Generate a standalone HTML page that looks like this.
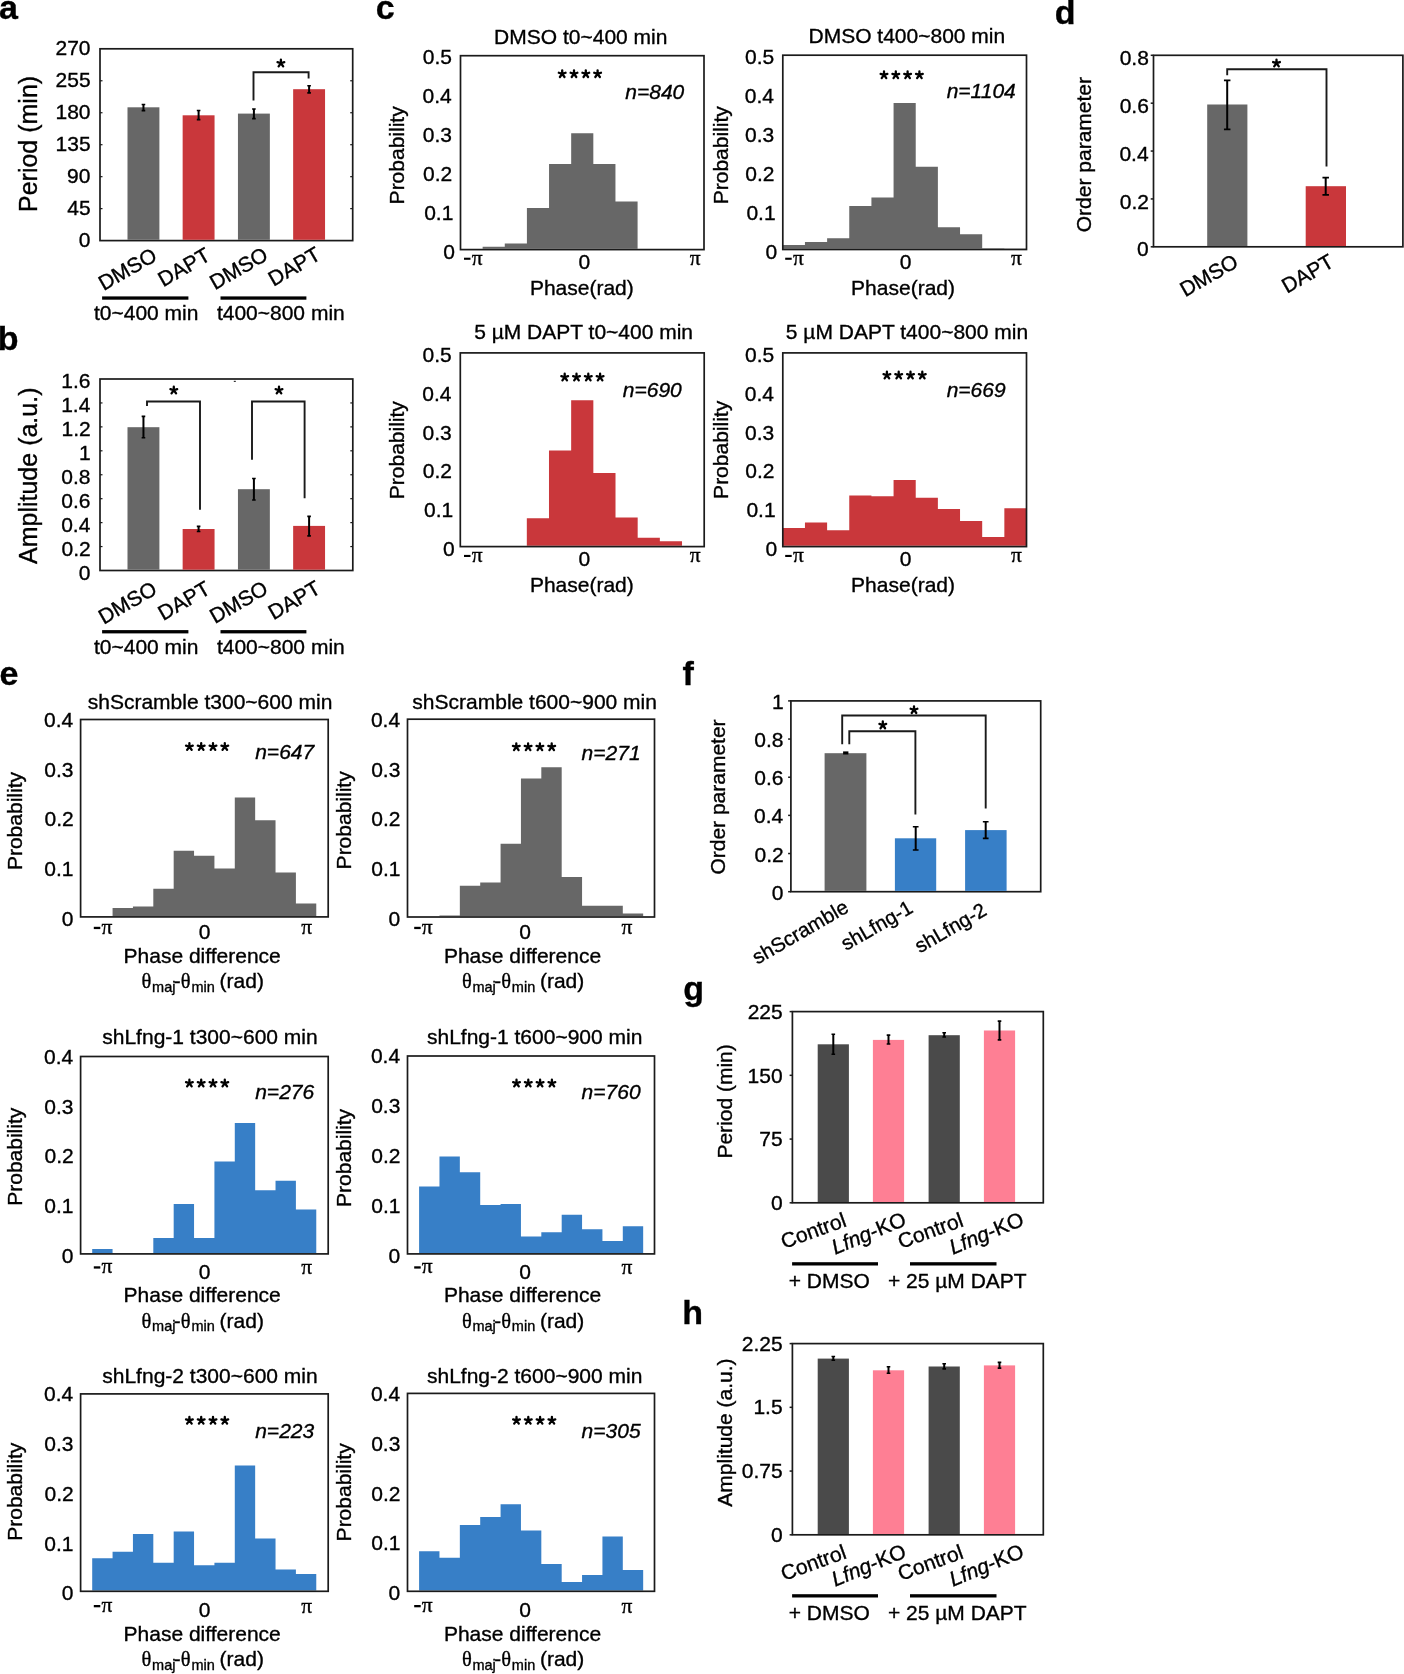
<!DOCTYPE html>
<html><head><meta charset="utf-8"><style>
html,body{margin:0;padding:0;background:#fff;}
svg{display:block;will-change:transform;}
text{font-family:"Liberation Sans",sans-serif;fill:#000;stroke:#000;stroke-width:0.35px;}
</style></head><body>
<svg width="1404" height="1674" viewBox="0 0 1404 1674">
<rect width="1404" height="1674" fill="#fff"/>
<text x="-1.02" y="18.6" font-size="34" font-weight="bold" fill="#000">a</text>
<rect x="100" y="48.8" width="252.7" height="191.8" fill="none" stroke="#1a1a1a" stroke-width="1.7"/>
<text x="78.78" y="247.04" font-size="21" fill="#000">0</text>
<text x="67.23" y="214.97" font-size="21" fill="#000">45</text>
<path d="M100,208.63 L102.5,208.63" fill="none" stroke="#1a1a1a" stroke-width="1.2"/>
<path d="M352.7,208.63 L350.2,208.63" fill="none" stroke="#1a1a1a" stroke-width="1.2"/>
<text x="67.12" y="183.11" font-size="21" fill="#000">90</text>
<path d="M100,176.67 L102.5,176.67" fill="none" stroke="#1a1a1a" stroke-width="1.2"/>
<path d="M352.7,176.67 L350.2,176.67" fill="none" stroke="#1a1a1a" stroke-width="1.2"/>
<text x="55.58" y="151.14" font-size="21" fill="#000">135</text>
<path d="M100,144.7 L102.5,144.7" fill="none" stroke="#1a1a1a" stroke-width="1.2"/>
<path d="M352.7,144.7 L350.2,144.7" fill="none" stroke="#1a1a1a" stroke-width="1.2"/>
<text x="55.47" y="119.18" font-size="21" fill="#000">180</text>
<path d="M100,112.73 L102.5,112.73" fill="none" stroke="#1a1a1a" stroke-width="1.2"/>
<path d="M352.7,112.73 L350.2,112.73" fill="none" stroke="#1a1a1a" stroke-width="1.2"/>
<text x="55.58" y="87.21" font-size="21" fill="#000">255</text>
<path d="M100,80.77 L102.5,80.77" fill="none" stroke="#1a1a1a" stroke-width="1.2"/>
<path d="M352.7,80.77 L350.2,80.77" fill="none" stroke="#1a1a1a" stroke-width="1.2"/>
<text x="55.47" y="55.24" font-size="21" fill="#000">270</text>
<rect x="127.5" y="107.3" width="31.9" height="132.5" fill="#676767"/>
<path d="M143.45,104.5 V110.6" stroke="#000" stroke-width="2.0" fill="none"/>
<path d="M141.65,104.5 H145.25 M141.65,110.6 H145.25" stroke="#000" stroke-width="1.6" fill="none"/>
<rect x="182.65" y="115.3" width="31.9" height="124.5" fill="#c9373b"/>
<path d="M198.6,110.5 V119.6" stroke="#000" stroke-width="2.0" fill="none"/>
<path d="M196.8,110.5 H200.4 M196.8,119.6 H200.4" stroke="#000" stroke-width="1.6" fill="none"/>
<rect x="237.95" y="113.6" width="31.9" height="126.2" fill="#676767"/>
<path d="M253.9,109 V118.6" stroke="#000" stroke-width="2.0" fill="none"/>
<path d="M252.1,109 H255.7 M252.1,118.6 H255.7" stroke="#000" stroke-width="1.6" fill="none"/>
<rect x="293.15" y="89.2" width="31.9" height="150.6" fill="#c9373b"/>
<path d="M309.1,85.7 V92.9" stroke="#000" stroke-width="2.0" fill="none"/>
<path d="M307.3,85.7 H310.9 M307.3,92.9 H310.9" stroke="#000" stroke-width="1.6" fill="none"/>
<path d="M253.5,100.5 L253.5,72.3 L308.6,72.3 L308.6,78.5" fill="none" stroke="#1a1a1a" stroke-width="1.9"/>
<path d="M280.9,63.25 L280.9,59.7 M280.9,63.25 L284.28,62.15 M280.9,63.25 L277.52,62.15 M280.9,63.25 L283.19,66.41 M280.9,63.25 L278.61,66.41" stroke="#000" stroke-width="2.3" stroke-linecap="round" fill="none"/>
<text transform="translate(103.74,290.96) rotate(-30)" font-size="21">DMSO</text>
<text transform="translate(163.25,287.24) rotate(-30)" font-size="21">DAPT</text>
<text transform="translate(214.94,290.36) rotate(-30)" font-size="21">DMSO</text>
<text transform="translate(273.55,286.64) rotate(-30)" font-size="21">DAPT</text>
<rect x="102.1" y="296.4" width="86.3" height="3.3" fill="#000"/>
<rect x="220.5" y="296.4" width="85.9" height="3.3" fill="#000"/>
<text x="93.98" y="320.2" font-size="21" fill="#000">t0~400 min</text>
<text x="216.88" y="320.2" font-size="21" fill="#000">t400~800 min</text>
<text transform="translate(36.89,212.01) rotate(-90)" font-size="25">Period (min)</text>
<text x="-2.21" y="349.6" font-size="34" font-weight="bold" fill="#000">b</text>
<rect x="100" y="379" width="252.8" height="191.5" fill="none" stroke="#1a1a1a" stroke-width="1.7"/>
<text x="78.78" y="579.95" font-size="21" fill="#000">0</text>
<text x="61.56" y="556.01" font-size="21" fill="#000">0.2</text>
<path d="M100,546.56 L102.5,546.56" fill="none" stroke="#1a1a1a" stroke-width="1.2"/>
<path d="M352.8,546.56 L350.3,546.56" fill="none" stroke="#1a1a1a" stroke-width="1.2"/>
<text x="61.14" y="532.07" font-size="21" fill="#000">0.4</text>
<path d="M100,522.62 L102.5,522.62" fill="none" stroke="#1a1a1a" stroke-width="1.2"/>
<path d="M352.8,522.62 L350.3,522.62" fill="none" stroke="#1a1a1a" stroke-width="1.2"/>
<text x="61.35" y="508.13" font-size="21" fill="#000">0.6</text>
<path d="M100,498.69 L102.5,498.69" fill="none" stroke="#1a1a1a" stroke-width="1.2"/>
<path d="M352.8,498.69 L350.3,498.69" fill="none" stroke="#1a1a1a" stroke-width="1.2"/>
<text x="61.35" y="484.19" font-size="21" fill="#000">0.8</text>
<path d="M100,474.75 L102.5,474.75" fill="none" stroke="#1a1a1a" stroke-width="1.2"/>
<path d="M352.8,474.75 L350.3,474.75" fill="none" stroke="#1a1a1a" stroke-width="1.2"/>
<text x="78.99" y="460.26" font-size="21" fill="#000">1</text>
<path d="M100,450.81 L102.5,450.81" fill="none" stroke="#1a1a1a" stroke-width="1.2"/>
<path d="M352.8,450.81 L350.3,450.81" fill="none" stroke="#1a1a1a" stroke-width="1.2"/>
<text x="61.56" y="436.43" font-size="21" fill="#000">1.2</text>
<path d="M100,426.88 L102.5,426.88" fill="none" stroke="#1a1a1a" stroke-width="1.2"/>
<path d="M352.8,426.88 L350.3,426.88" fill="none" stroke="#1a1a1a" stroke-width="1.2"/>
<text x="61.14" y="412.38" font-size="21" fill="#000">1.4</text>
<path d="M100,402.94 L102.5,402.94" fill="none" stroke="#1a1a1a" stroke-width="1.2"/>
<path d="M352.8,402.94 L350.3,402.94" fill="none" stroke="#1a1a1a" stroke-width="1.2"/>
<text x="61.35" y="388.44" font-size="21" fill="#000">1.6</text>
<rect x="127.5" y="427.2" width="31.9" height="142.5" fill="#676767"/>
<path d="M143.45,416.4 V437.7" stroke="#000" stroke-width="2.0" fill="none"/>
<path d="M141.65,416.4 H145.25 M141.65,437.7 H145.25" stroke="#000" stroke-width="1.6" fill="none"/>
<rect x="182.65" y="529" width="31.9" height="40.7" fill="#c9373b"/>
<path d="M198.6,526.4 V531.5" stroke="#000" stroke-width="2.0" fill="none"/>
<path d="M196.8,526.4 H200.4 M196.8,531.5 H200.4" stroke="#000" stroke-width="1.6" fill="none"/>
<rect x="237.95" y="489.2" width="31.9" height="80.5" fill="#676767"/>
<path d="M253.9,478.5 V500" stroke="#000" stroke-width="2.0" fill="none"/>
<path d="M252.1,478.5 H255.7 M252.1,500 H255.7" stroke="#000" stroke-width="1.6" fill="none"/>
<rect x="293.15" y="525.9" width="31.9" height="43.8" fill="#c9373b"/>
<path d="M309.1,516.4 V535.9" stroke="#000" stroke-width="2.0" fill="none"/>
<path d="M307.3,516.4 H310.9 M307.3,535.9 H310.9" stroke="#000" stroke-width="1.6" fill="none"/>
<path d="M147,406 L147,401.5 L200,401.5 L200,509.7" fill="none" stroke="#1a1a1a" stroke-width="1.9"/>
<path d="M252,459.7 L252,401.5 L304.6,401.5 L304.6,498.2" fill="none" stroke="#1a1a1a" stroke-width="1.9"/>
<path d="M173.8,390.25 L173.8,386.7 M173.8,390.25 L177.18,389.15 M173.8,390.25 L170.42,389.15 M173.8,390.25 L176.09,393.41 M173.8,390.25 L171.51,393.41" stroke="#000" stroke-width="2.3" stroke-linecap="round" fill="none"/>
<path d="M279,390.25 L279,386.7 M279,390.25 L282.38,389.15 M279,390.25 L275.62,389.15 M279,390.25 L281.29,393.41 M279,390.25 L276.71,393.41" stroke="#000" stroke-width="2.3" stroke-linecap="round" fill="none"/>
<text transform="translate(103.74,624.66) rotate(-30)" font-size="21">DMSO</text>
<text transform="translate(163.25,620.94) rotate(-30)" font-size="21">DAPT</text>
<text transform="translate(214.94,624.06) rotate(-30)" font-size="21">DMSO</text>
<text transform="translate(273.55,620.34) rotate(-30)" font-size="21">DAPT</text>
<rect x="102.1" y="630.1" width="86.3" height="3.3" fill="#000"/>
<rect x="220.5" y="630.1" width="85.9" height="3.3" fill="#000"/>
<text x="93.98" y="653.9" font-size="21" fill="#000">t0~400 min</text>
<text x="216.88" y="653.9" font-size="21" fill="#000">t400~800 min</text>
<text transform="translate(36.89,563.99) rotate(-90)" font-size="25">Amplitude (a.u.)</text>
<rect x="233.8" y="380.8" width="2" height="1.2" fill="#333"/>
<text x="375.64" y="18.6" font-size="34" font-weight="bold" fill="#000">c</text>
<text x="443.18" y="259.44" font-size="21" fill="#000">0</text>
<text x="424.16" y="220.42" font-size="21" fill="#000">0.1</text>
<text x="422.96" y="181.41" font-size="21" fill="#000">0.2</text>
<text x="422.75" y="142.38" font-size="21" fill="#000">0.3</text>
<text x="422.54" y="103.37" font-size="21" fill="#000">0.4</text>
<text x="422.75" y="64.35" font-size="21" fill="#000">0.5</text>
<path d="M460.5,248.75 L460.5,248.75 L482.64,248.75 L482.64,246.81 L504.77,246.81 L504.77,243.4 L526.91,243.4 L526.91,208.11 L549.05,208.11 L549.05,163.9 L571.18,163.9 L571.18,133.26 L593.32,133.26 L593.32,163.9 L615.45,163.9 L615.45,201.51 L637.59,201.51 L637.59,248.75 L659.73,248.75 L659.73,248.75 L681.86,248.75 L681.86,248.75 L704,248.75 L704,248.75 Z" fill="#676767"/>
<rect x="460.5" y="55.7" width="243.5" height="193.9" fill="none" stroke="#1a1a1a" stroke-width="1.7"/>
<text x="494.12" y="43.5" font-size="21" fill="#000">DMSO t0~400 min</text>
<path d="M562.2,73.85 L562.2,70.3 M562.2,73.85 L565.58,72.75 M562.2,73.85 L558.82,72.75 M562.2,73.85 L564.49,77.01 M562.2,73.85 L559.91,77.01" stroke="#000" stroke-width="2.3" stroke-linecap="round" fill="none"/>
<path d="M574,73.85 L574,70.3 M574,73.85 L577.38,72.75 M574,73.85 L570.62,72.75 M574,73.85 L576.29,77.01 M574,73.85 L571.71,77.01" stroke="#000" stroke-width="2.3" stroke-linecap="round" fill="none"/>
<path d="M585.8,73.85 L585.8,70.3 M585.8,73.85 L589.18,72.75 M585.8,73.85 L582.42,72.75 M585.8,73.85 L588.09,77.01 M585.8,73.85 L583.51,77.01" stroke="#000" stroke-width="2.3" stroke-linecap="round" fill="none"/>
<path d="M597.6,73.85 L597.6,70.3 M597.6,73.85 L600.98,72.75 M597.6,73.85 L594.22,72.75 M597.6,73.85 L599.89,77.01 M597.6,73.85 L595.31,77.01" stroke="#000" stroke-width="2.3" stroke-linecap="round" fill="none"/>
<text x="625.28" y="99" font-size="21" font-style="italic" fill="#000">n=840</text>
<text transform="translate(404.21,204.38) rotate(-90)" font-size="21">Probability</text>
<rect x="464" y="257.7" width="6.5" height="2.1" fill="#000"/>
<text x="471.68" y="264.99" font-size="21.5" style="font-family:'Liberation Serif',serif" fill="#000">π</text>
<text x="578.62" y="269.1" font-size="21" fill="#000">0</text>
<text x="689.68" y="264.69" font-size="21.5" style="font-family:'Liberation Serif',serif" fill="#000">π</text>
<text x="529.92" y="294.73" font-size="21" fill="#000">Phase(rad)</text>
<text x="765.48" y="259.34" font-size="21" fill="#000">0</text>
<text x="746.45" y="220.24" font-size="21" fill="#000">0.1</text>
<text x="745.26" y="181.15" font-size="21" fill="#000">0.2</text>
<text x="745.05" y="142.04" font-size="21" fill="#000">0.3</text>
<text x="744.84" y="102.95" font-size="21" fill="#000">0.4</text>
<text x="745.05" y="63.84" font-size="21" fill="#000">0.5</text>
<path d="M782.8,248.65 L782.8,245.11 L804.95,245.11 L804.95,242.12 L827.11,242.12 L827.11,238.23 L849.26,238.23 L849.26,205.98 L871.42,205.98 L871.42,197.43 L893.57,197.43 L893.57,103 L915.73,103 L915.73,166.73 L937.88,166.73 L937.88,227.35 L960.04,227.35 L960.04,234.34 L982.19,234.34 L982.19,248.33 L1004.35,248.33 L1004.35,249.11 L1026.5,249.11 L1026.5,248.65 Z" fill="#676767"/>
<rect x="782.8" y="55.2" width="243.7" height="194.3" fill="none" stroke="#1a1a1a" stroke-width="1.7"/>
<text x="808.52" y="43.1" font-size="21" fill="#000">DMSO t400~800 min</text>
<path d="M884,74.95 L884,71.4 M884,74.95 L887.38,73.85 M884,74.95 L880.62,73.85 M884,74.95 L886.29,78.11 M884,74.95 L881.71,78.11" stroke="#000" stroke-width="2.3" stroke-linecap="round" fill="none"/>
<path d="M895.8,74.95 L895.8,71.4 M895.8,74.95 L899.18,73.85 M895.8,74.95 L892.42,73.85 M895.8,74.95 L898.09,78.11 M895.8,74.95 L893.51,78.11" stroke="#000" stroke-width="2.3" stroke-linecap="round" fill="none"/>
<path d="M907.6,74.95 L907.6,71.4 M907.6,74.95 L910.98,73.85 M907.6,74.95 L904.22,73.85 M907.6,74.95 L909.89,78.11 M907.6,74.95 L905.31,78.11" stroke="#000" stroke-width="2.3" stroke-linecap="round" fill="none"/>
<path d="M919.4,74.95 L919.4,71.4 M919.4,74.95 L922.78,73.85 M919.4,74.95 L916.02,73.85 M919.4,74.95 L921.69,78.11 M919.4,74.95 L917.11,78.11" stroke="#000" stroke-width="2.3" stroke-linecap="round" fill="none"/>
<text x="946.68" y="98.1" font-size="21" font-style="italic" fill="#000">n=1104</text>
<text transform="translate(727.81,204.28) rotate(-90)" font-size="21">Probability</text>
<rect x="785.2" y="257.7" width="6.5" height="2.1" fill="#000"/>
<text x="792.88" y="264.99" font-size="21.5" style="font-family:'Liberation Serif',serif" fill="#000">π</text>
<text x="899.82" y="269.1" font-size="21" fill="#000">0</text>
<text x="1010.88" y="264.69" font-size="21.5" style="font-family:'Liberation Serif',serif" fill="#000">π</text>
<text x="851.12" y="294.73" font-size="21" fill="#000">Phase(rad)</text>
<text x="442.98" y="556.45" font-size="21" fill="#000">0</text>
<text x="423.96" y="517.47" font-size="21" fill="#000">0.1</text>
<text x="422.76" y="478.49" font-size="21" fill="#000">0.2</text>
<text x="422.55" y="439.5" font-size="21" fill="#000">0.3</text>
<text x="422.34" y="400.53" font-size="21" fill="#000">0.4</text>
<text x="422.55" y="361.55" font-size="21" fill="#000">0.5</text>
<path d="M460.3,545.75 L460.3,545.75 L482.47,545.75 L482.47,545.75 L504.65,545.75 L504.65,545.75 L526.82,545.75 L526.82,518.32 L548.99,518.32 L548.99,450.52 L571.16,450.52 L571.16,400.16 L593.34,400.16 L593.34,472.99 L615.51,472.99 L615.51,517.55 L637.68,517.55 L637.68,537.69 L659.85,537.69 L659.85,541.18 L682.03,541.18 L682.03,545.75 L704.2,545.75 L704.2,545.75 Z" fill="#c9373b"/>
<rect x="460.3" y="352.9" width="243.9" height="193.7" fill="none" stroke="#1a1a1a" stroke-width="1.7"/>
<text x="474.16" y="338.6" font-size="21" fill="#000">5 µM DAPT t0~400 min</text>
<path d="M564.7,377.25 L564.7,373.7 M564.7,377.25 L568.08,376.15 M564.7,377.25 L561.32,376.15 M564.7,377.25 L566.99,380.41 M564.7,377.25 L562.41,380.41" stroke="#000" stroke-width="2.3" stroke-linecap="round" fill="none"/>
<path d="M576.5,377.25 L576.5,373.7 M576.5,377.25 L579.88,376.15 M576.5,377.25 L573.12,376.15 M576.5,377.25 L578.79,380.41 M576.5,377.25 L574.21,380.41" stroke="#000" stroke-width="2.3" stroke-linecap="round" fill="none"/>
<path d="M588.3,377.25 L588.3,373.7 M588.3,377.25 L591.68,376.15 M588.3,377.25 L584.92,376.15 M588.3,377.25 L590.59,380.41 M588.3,377.25 L586.01,380.41" stroke="#000" stroke-width="2.3" stroke-linecap="round" fill="none"/>
<path d="M600.1,377.25 L600.1,373.7 M600.1,377.25 L603.48,376.15 M600.1,377.25 L596.72,376.15 M600.1,377.25 L602.39,380.41 M600.1,377.25 L597.81,380.41" stroke="#000" stroke-width="2.3" stroke-linecap="round" fill="none"/>
<text x="622.78" y="397.2" font-size="21" font-style="italic" fill="#000">n=690</text>
<text transform="translate(404.41,499.18) rotate(-90)" font-size="21">Probability</text>
<rect x="464" y="554.9" width="6.5" height="2.1" fill="#000"/>
<text x="471.68" y="562.19" font-size="21.5" style="font-family:'Liberation Serif',serif" fill="#000">π</text>
<text x="578.62" y="566.3" font-size="21" fill="#000">0</text>
<text x="689.68" y="561.89" font-size="21.5" style="font-family:'Liberation Serif',serif" fill="#000">π</text>
<text x="529.92" y="591.93" font-size="21" fill="#000">Phase(rad)</text>
<text x="765.48" y="556.45" font-size="21" fill="#000">0</text>
<text x="746.45" y="517.47" font-size="21" fill="#000">0.1</text>
<text x="745.26" y="478.49" font-size="21" fill="#000">0.2</text>
<text x="745.05" y="439.5" font-size="21" fill="#000">0.3</text>
<text x="744.84" y="400.53" font-size="21" fill="#000">0.4</text>
<text x="745.05" y="361.55" font-size="21" fill="#000">0.5</text>
<path d="M782.8,545.75 L782.8,528 L804.95,528 L804.95,522.58 L827.11,522.58 L827.11,530.33 L849.26,530.33 L849.26,495.46 L871.42,495.46 L871.42,496.24 L893.57,496.24 L893.57,479.97 L915.73,479.97 L915.73,497.79 L937.88,497.79 L937.88,509.02 L960.04,509.02 L960.04,521.03 L982.19,521.03 L982.19,536.91 L1004.35,536.91 L1004.35,508.25 L1026.5,508.25 L1026.5,545.75 Z" fill="#c9373b"/>
<rect x="782.8" y="352.9" width="243.7" height="193.7" fill="none" stroke="#1a1a1a" stroke-width="1.7"/>
<text x="785.86" y="339" font-size="21" fill="#000">5 µM DAPT t400~800 min</text>
<path d="M886.9,375.25 L886.9,371.7 M886.9,375.25 L890.28,374.15 M886.9,375.25 L883.52,374.15 M886.9,375.25 L889.19,378.41 M886.9,375.25 L884.61,378.41" stroke="#000" stroke-width="2.3" stroke-linecap="round" fill="none"/>
<path d="M898.7,375.25 L898.7,371.7 M898.7,375.25 L902.08,374.15 M898.7,375.25 L895.32,374.15 M898.7,375.25 L900.99,378.41 M898.7,375.25 L896.41,378.41" stroke="#000" stroke-width="2.3" stroke-linecap="round" fill="none"/>
<path d="M910.5,375.25 L910.5,371.7 M910.5,375.25 L913.88,374.15 M910.5,375.25 L907.12,374.15 M910.5,375.25 L912.79,378.41 M910.5,375.25 L908.21,378.41" stroke="#000" stroke-width="2.3" stroke-linecap="round" fill="none"/>
<path d="M922.3,375.25 L922.3,371.7 M922.3,375.25 L925.68,374.15 M922.3,375.25 L918.92,374.15 M922.3,375.25 L924.59,378.41 M922.3,375.25 L920.01,378.41" stroke="#000" stroke-width="2.3" stroke-linecap="round" fill="none"/>
<text x="946.68" y="397.2" font-size="21" font-style="italic" fill="#000">n=669</text>
<text transform="translate(727.81,498.88) rotate(-90)" font-size="21">Probability</text>
<rect x="785.2" y="554.9" width="6.5" height="2.1" fill="#000"/>
<text x="792.88" y="562.19" font-size="21.5" style="font-family:'Liberation Serif',serif" fill="#000">π</text>
<text x="899.82" y="566.3" font-size="21" fill="#000">0</text>
<text x="1010.88" y="561.89" font-size="21.5" style="font-family:'Liberation Serif',serif" fill="#000">π</text>
<text x="851.12" y="591.93" font-size="21" fill="#000">Phase(rad)</text>
<text x="1054.64" y="23.6" font-size="34" font-weight="bold" fill="#000">d</text>
<rect x="1153.5" y="55.3" width="249.4" height="191.5" fill="none" stroke="#1a1a1a" stroke-width="1.7"/>
<text x="1137.08" y="256.44" font-size="21" fill="#000">0</text>
<path d="M1153.5,246.8 L1150.7,246.8" fill="none" stroke="#1a1a1a" stroke-width="1.5"/>
<text x="1119.86" y="208.57" font-size="21" fill="#000">0.2</text>
<path d="M1153.5,198.93 L1150.7,198.93" fill="none" stroke="#1a1a1a" stroke-width="1.5"/>
<text x="1119.44" y="160.7" font-size="21" fill="#000">0.4</text>
<path d="M1153.5,151.05 L1150.7,151.05" fill="none" stroke="#1a1a1a" stroke-width="1.5"/>
<text x="1119.65" y="112.82" font-size="21" fill="#000">0.6</text>
<path d="M1153.5,103.18 L1150.7,103.18" fill="none" stroke="#1a1a1a" stroke-width="1.5"/>
<text x="1119.65" y="64.95" font-size="21" fill="#000">0.8</text>
<path d="M1153.5,55.3 L1150.7,55.3" fill="none" stroke="#1a1a1a" stroke-width="1.5"/>
<rect x="1207.2" y="104.5" width="40.2" height="141.5" fill="#676767"/>
<rect x="1305.7" y="186.2" width="40.3" height="59.8" fill="#c9373b"/>
<path d="M1227.2,80.4 V129.4" stroke="#000" stroke-width="2.0" fill="none"/>
<path d="M1223.95,80.4 H1230.45 M1223.95,129.4 H1230.45" stroke="#000" stroke-width="1.6" fill="none"/>
<path d="M1325.7,177.6 V194.9" stroke="#000" stroke-width="2.0" fill="none"/>
<path d="M1322.45,177.6 H1328.95 M1322.45,194.9 H1328.95" stroke="#000" stroke-width="1.6" fill="none"/>
<path d="M1227.2,75.2 L1227.2,69.2 L1326.5,69.2 L1326.5,166.5" fill="none" stroke="#1a1a1a" stroke-width="1.9"/>
<path d="M1276.5,63.15 L1276.5,59.6 M1276.5,63.15 L1279.88,62.05 M1276.5,63.15 L1273.12,62.05 M1276.5,63.15 L1278.79,66.31 M1276.5,63.15 L1274.21,66.31" stroke="#000" stroke-width="2.3" stroke-linecap="round" fill="none"/>
<text transform="translate(1090.81,232.21) rotate(-90)" font-size="21">Order parameter</text>
<text transform="translate(1185.14,297.26) rotate(-30)" font-size="21">DMSO</text>
<text transform="translate(1286.95,293.84) rotate(-30)" font-size="21">DAPT</text>
<text x="-0.56" y="685" font-size="34" font-weight="bold" fill="#000">e</text>
<text x="61.68" y="925.94" font-size="21" fill="#000">0</text>
<text x="44.35" y="876.19" font-size="21" fill="#000">0.1</text>
<text x="44.46" y="826.45" font-size="21" fill="#000">0.2</text>
<text x="44.25" y="776.69" font-size="21" fill="#000">0.3</text>
<text x="44.04" y="726.94" font-size="21" fill="#000">0.4</text>
<path d="M92.2,916.05 L92.2,916.05 L112.57,916.05 L112.57,908.02 L132.94,908.02 L132.94,906.54 L153.31,906.54 L153.31,888.77 L173.68,888.77 L173.68,850.77 L194.05,850.77 L194.05,855.71 L214.42,855.71 L214.42,868.54 L234.79,868.54 L234.79,797.47 L255.16,797.47 L255.16,820.17 L275.53,820.17 L275.53,872.49 L295.9,872.49 L295.9,903.58 L316.27,903.58 L316.27,916.05 Z" fill="#676767"/>
<rect x="80.6" y="719.5" width="247.6" height="197.4" fill="none" stroke="#1a1a1a" stroke-width="1.7"/>
<text x="87.77" y="708.9" font-size="21" fill="#000">shScramble t300~600 min</text>
<path d="M189.4,746.75 L189.4,743.2 M189.4,746.75 L192.78,745.65 M189.4,746.75 L186.02,745.65 M189.4,746.75 L191.69,749.91 M189.4,746.75 L187.11,749.91" stroke="#000" stroke-width="2.3" stroke-linecap="round" fill="none"/>
<path d="M201.2,746.75 L201.2,743.2 M201.2,746.75 L204.58,745.65 M201.2,746.75 L197.82,745.65 M201.2,746.75 L203.49,749.91 M201.2,746.75 L198.91,749.91" stroke="#000" stroke-width="2.3" stroke-linecap="round" fill="none"/>
<path d="M213,746.75 L213,743.2 M213,746.75 L216.38,745.65 M213,746.75 L209.62,745.65 M213,746.75 L215.29,749.91 M213,746.75 L210.71,749.91" stroke="#000" stroke-width="2.3" stroke-linecap="round" fill="none"/>
<path d="M224.8,746.75 L224.8,743.2 M224.8,746.75 L228.18,745.65 M224.8,746.75 L221.42,745.65 M224.8,746.75 L227.09,749.91 M224.8,746.75 L222.51,749.91" stroke="#000" stroke-width="2.3" stroke-linecap="round" fill="none"/>
<text x="255.19" y="759" font-size="21" font-style="italic" fill="#000">n=647</text>
<text transform="translate(22.11,870.08) rotate(-90)" font-size="21">Probability</text>
<rect x="93.8" y="926.8" width="6.5" height="2.3" fill="#000"/>
<text x="101.38" y="933.89" font-size="21.5" style="font-family:'Liberation Serif',serif" fill="#000">π</text>
<text x="198.82" y="939.2" font-size="21" fill="#000">0</text>
<text x="301.18" y="934.39" font-size="21.5" style="font-family:'Liberation Serif',serif" fill="#000">π</text>
<text x="123.52" y="962.9" font-size="21" fill="#000">Phase difference</text>
<text x="141.48" y="988" font-size="20.5" style="font-family:'Liberation Serif',serif" fill="#000">θ</text>
<text x="152.06" y="991.8" font-size="14.5" fill="#000">maj</text>
<text x="173.78" y="988" font-size="20.5" fill="#000">-</text>
<text x="180.78" y="988" font-size="20.5" style="font-family:'Liberation Serif',serif" fill="#000">θ</text>
<text x="191.46" y="991.8" font-size="14.5" fill="#000">min</text>
<text x="219.54" y="988" font-size="21" fill="#000">(rad)</text>
<text x="388.58" y="926.04" font-size="21" fill="#000">0</text>
<text x="371.25" y="876.19" font-size="21" fill="#000">0.1</text>
<text x="371.36" y="826.35" font-size="21" fill="#000">0.2</text>
<text x="371.15" y="776.5" font-size="21" fill="#000">0.3</text>
<text x="370.94" y="726.64" font-size="21" fill="#000">0.4</text>
<path d="M419.1,916.15 L419.1,916.15 L439.47,916.15 L439.47,915.52 L459.84,915.52 L459.84,885.85 L480.21,885.85 L480.21,882.38 L500.58,882.38 L500.58,843.81 L520.95,843.81 L520.95,778.54 L541.32,778.54 L541.32,767.17 L561.69,767.17 L561.69,876.95 L582.06,876.95 L582.06,905.63 L602.43,905.63 L602.43,905.63 L622.8,905.63 L622.8,913.54 L643.17,913.54 L643.17,916.15 Z" fill="#676767"/>
<rect x="407.5" y="719.2" width="247" height="197.8" fill="none" stroke="#1a1a1a" stroke-width="1.7"/>
<text x="412.37" y="708.7" font-size="21" fill="#000">shScramble t600~900 min</text>
<path d="M516.3,746.95 L516.3,743.4 M516.3,746.95 L519.68,745.85 M516.3,746.95 L512.92,745.85 M516.3,746.95 L518.59,750.11 M516.3,746.95 L514.01,750.11" stroke="#000" stroke-width="2.3" stroke-linecap="round" fill="none"/>
<path d="M528.1,746.95 L528.1,743.4 M528.1,746.95 L531.48,745.85 M528.1,746.95 L524.72,745.85 M528.1,746.95 L530.39,750.11 M528.1,746.95 L525.81,750.11" stroke="#000" stroke-width="2.3" stroke-linecap="round" fill="none"/>
<path d="M539.9,746.95 L539.9,743.4 M539.9,746.95 L543.28,745.85 M539.9,746.95 L536.52,745.85 M539.9,746.95 L542.19,750.11 M539.9,746.95 L537.61,750.11" stroke="#000" stroke-width="2.3" stroke-linecap="round" fill="none"/>
<path d="M551.7,746.95 L551.7,743.4 M551.7,746.95 L555.08,745.85 M551.7,746.95 L548.32,745.85 M551.7,746.95 L553.99,750.11 M551.7,746.95 L549.41,750.11" stroke="#000" stroke-width="2.3" stroke-linecap="round" fill="none"/>
<text x="581.58" y="759.6" font-size="21" font-style="italic" fill="#000">n=271</text>
<text transform="translate(350.91,869.38) rotate(-90)" font-size="21">Probability</text>
<rect x="414.2" y="926.8" width="6.5" height="2.3" fill="#000"/>
<text x="421.78" y="933.89" font-size="21.5" style="font-family:'Liberation Serif',serif" fill="#000">π</text>
<text x="519.22" y="939.2" font-size="21" fill="#000">0</text>
<text x="621.58" y="934.39" font-size="21.5" style="font-family:'Liberation Serif',serif" fill="#000">π</text>
<text x="443.92" y="962.9" font-size="21" fill="#000">Phase difference</text>
<text x="461.88" y="988" font-size="20.5" style="font-family:'Liberation Serif',serif" fill="#000">θ</text>
<text x="472.46" y="991.8" font-size="14.5" fill="#000">maj</text>
<text x="494.18" y="988" font-size="20.5" fill="#000">-</text>
<text x="501.18" y="988" font-size="20.5" style="font-family:'Liberation Serif',serif" fill="#000">θ</text>
<text x="511.86" y="991.8" font-size="14.5" fill="#000">min</text>
<text x="539.94" y="988" font-size="21" fill="#000">(rad)</text>
<text x="61.68" y="1262.94" font-size="21" fill="#000">0</text>
<text x="44.35" y="1213.19" font-size="21" fill="#000">0.1</text>
<text x="44.46" y="1163.44" font-size="21" fill="#000">0.2</text>
<text x="44.25" y="1113.69" font-size="21" fill="#000">0.3</text>
<text x="44.04" y="1063.94" font-size="21" fill="#000">0.4</text>
<path d="M92.2,1253.05 L92.2,1248.97 L112.57,1248.97 L112.57,1253.05 L132.94,1253.05 L132.94,1253.05 L153.31,1253.05 L153.31,1238.11 L173.68,1238.11 L173.68,1204.06 L194.05,1204.06 L194.05,1238.11 L214.42,1238.11 L214.42,1161.62 L234.79,1161.62 L234.79,1123.12 L255.16,1123.12 L255.16,1190.24 L275.53,1190.24 L275.53,1180.86 L295.9,1180.86 L295.9,1209.49 L316.27,1209.49 L316.27,1253.05 Z" fill="#377fc7"/>
<rect x="80.6" y="1056.5" width="247.6" height="197.4" fill="none" stroke="#1a1a1a" stroke-width="1.7"/>
<text x="102.27" y="1043.9" font-size="21" fill="#000">shLfng-1 t300~600 min</text>
<path d="M189.4,1083.25 L189.4,1079.7 M189.4,1083.25 L192.78,1082.15 M189.4,1083.25 L186.02,1082.15 M189.4,1083.25 L191.69,1086.41 M189.4,1083.25 L187.11,1086.41" stroke="#000" stroke-width="2.3" stroke-linecap="round" fill="none"/>
<path d="M201.2,1083.25 L201.2,1079.7 M201.2,1083.25 L204.58,1082.15 M201.2,1083.25 L197.82,1082.15 M201.2,1083.25 L203.49,1086.41 M201.2,1083.25 L198.91,1086.41" stroke="#000" stroke-width="2.3" stroke-linecap="round" fill="none"/>
<path d="M213,1083.25 L213,1079.7 M213,1083.25 L216.38,1082.15 M213,1083.25 L209.62,1082.15 M213,1083.25 L215.29,1086.41 M213,1083.25 L210.71,1086.41" stroke="#000" stroke-width="2.3" stroke-linecap="round" fill="none"/>
<path d="M224.8,1083.25 L224.8,1079.7 M224.8,1083.25 L228.18,1082.15 M224.8,1083.25 L221.42,1082.15 M224.8,1083.25 L227.09,1086.41 M224.8,1083.25 L222.51,1086.41" stroke="#000" stroke-width="2.3" stroke-linecap="round" fill="none"/>
<text x="255.19" y="1099.1" font-size="21" font-style="italic" fill="#000">n=276</text>
<text transform="translate(22.11,1205.78) rotate(-90)" font-size="21">Probability</text>
<rect x="93.8" y="1266.3" width="6.5" height="2.3" fill="#000"/>
<text x="101.38" y="1273.39" font-size="21.5" style="font-family:'Liberation Serif',serif" fill="#000">π</text>
<text x="198.82" y="1278.7" font-size="21" fill="#000">0</text>
<text x="301.18" y="1273.89" font-size="21.5" style="font-family:'Liberation Serif',serif" fill="#000">π</text>
<text x="123.52" y="1302.4" font-size="21" fill="#000">Phase difference</text>
<text x="141.48" y="1327.5" font-size="20.5" style="font-family:'Liberation Serif',serif" fill="#000">θ</text>
<text x="152.06" y="1331.3" font-size="14.5" fill="#000">maj</text>
<text x="173.78" y="1327.5" font-size="20.5" fill="#000">-</text>
<text x="180.78" y="1327.5" font-size="20.5" style="font-family:'Liberation Serif',serif" fill="#000">θ</text>
<text x="191.46" y="1331.3" font-size="14.5" fill="#000">min</text>
<text x="219.54" y="1327.5" font-size="21" fill="#000">(rad)</text>
<text x="388.58" y="1262.94" font-size="21" fill="#000">0</text>
<text x="371.25" y="1213.07" font-size="21" fill="#000">0.1</text>
<text x="371.36" y="1163.19" font-size="21" fill="#000">0.2</text>
<text x="371.15" y="1113.32" font-size="21" fill="#000">0.3</text>
<text x="370.94" y="1063.44" font-size="21" fill="#000">0.4</text>
<path d="M419.1,1253.05 L419.1,1186.61 L439.47,1186.61 L439.47,1156.43 L459.84,1156.43 L459.84,1172.27 L480.21,1172.27 L480.21,1204.92 L500.58,1204.92 L500.58,1203.93 L520.95,1203.93 L520.95,1236.58 L541.32,1236.58 L541.32,1232.13 L561.69,1232.13 L561.69,1214.81 L582.06,1214.81 L582.06,1229.16 L602.43,1229.16 L602.43,1241.04 L622.8,1241.04 L622.8,1226.19 L643.17,1226.19 L643.17,1253.05 Z" fill="#377fc7"/>
<rect x="407.5" y="1056" width="247" height="197.9" fill="none" stroke="#1a1a1a" stroke-width="1.7"/>
<text x="426.97" y="1043.9" font-size="21" fill="#000">shLfng-1 t600~900 min</text>
<path d="M516.5,1083.25 L516.5,1079.7 M516.5,1083.25 L519.88,1082.15 M516.5,1083.25 L513.12,1082.15 M516.5,1083.25 L518.79,1086.41 M516.5,1083.25 L514.21,1086.41" stroke="#000" stroke-width="2.3" stroke-linecap="round" fill="none"/>
<path d="M528.3,1083.25 L528.3,1079.7 M528.3,1083.25 L531.68,1082.15 M528.3,1083.25 L524.92,1082.15 M528.3,1083.25 L530.59,1086.41 M528.3,1083.25 L526.01,1086.41" stroke="#000" stroke-width="2.3" stroke-linecap="round" fill="none"/>
<path d="M540.1,1083.25 L540.1,1079.7 M540.1,1083.25 L543.48,1082.15 M540.1,1083.25 L536.72,1082.15 M540.1,1083.25 L542.39,1086.41 M540.1,1083.25 L537.81,1086.41" stroke="#000" stroke-width="2.3" stroke-linecap="round" fill="none"/>
<path d="M551.9,1083.25 L551.9,1079.7 M551.9,1083.25 L555.28,1082.15 M551.9,1083.25 L548.52,1082.15 M551.9,1083.25 L554.19,1086.41 M551.9,1083.25 L549.61,1086.41" stroke="#000" stroke-width="2.3" stroke-linecap="round" fill="none"/>
<text x="581.58" y="1099" font-size="21" font-style="italic" fill="#000">n=760</text>
<text transform="translate(350.91,1206.97) rotate(-90)" font-size="21">Probability</text>
<rect x="414.2" y="1266.3" width="6.5" height="2.3" fill="#000"/>
<text x="421.78" y="1273.39" font-size="21.5" style="font-family:'Liberation Serif',serif" fill="#000">π</text>
<text x="519.22" y="1278.7" font-size="21" fill="#000">0</text>
<text x="621.58" y="1273.89" font-size="21.5" style="font-family:'Liberation Serif',serif" fill="#000">π</text>
<text x="443.92" y="1302.4" font-size="21" fill="#000">Phase difference</text>
<text x="461.88" y="1327.5" font-size="20.5" style="font-family:'Liberation Serif',serif" fill="#000">θ</text>
<text x="472.46" y="1331.3" font-size="14.5" fill="#000">maj</text>
<text x="494.18" y="1327.5" font-size="20.5" fill="#000">-</text>
<text x="501.18" y="1327.5" font-size="20.5" style="font-family:'Liberation Serif',serif" fill="#000">θ</text>
<text x="511.86" y="1331.3" font-size="14.5" fill="#000">min</text>
<text x="539.94" y="1327.5" font-size="21" fill="#000">(rad)</text>
<text x="61.68" y="1600.34" font-size="21" fill="#000">0</text>
<text x="44.35" y="1550.59" font-size="21" fill="#000">0.1</text>
<text x="44.46" y="1500.84" font-size="21" fill="#000">0.2</text>
<text x="44.25" y="1451.09" font-size="21" fill="#000">0.3</text>
<text x="44.04" y="1401.35" font-size="21" fill="#000">0.4</text>
<path d="M92.2,1590.45 L92.2,1558.24 L112.57,1558.24 L112.57,1551.82 L132.94,1551.82 L132.94,1534.05 L153.31,1534.05 L153.31,1562.68 L173.68,1562.68 L173.68,1531.59 L194.05,1531.59 L194.05,1565.14 L214.42,1565.14 L214.42,1562.68 L234.79,1562.68 L234.79,1465.46 L255.16,1465.46 L255.16,1538.5 L275.53,1538.5 L275.53,1569.59 L295.9,1569.59 L295.9,1574.03 L316.27,1574.03 L316.27,1590.45 Z" fill="#377fc7"/>
<rect x="80.6" y="1393.9" width="247.6" height="197.4" fill="none" stroke="#1a1a1a" stroke-width="1.7"/>
<text x="102.27" y="1382.5" font-size="21" fill="#000">shLfng-2 t300~600 min</text>
<path d="M189.4,1420.45 L189.4,1416.9 M189.4,1420.45 L192.78,1419.35 M189.4,1420.45 L186.02,1419.35 M189.4,1420.45 L191.69,1423.61 M189.4,1420.45 L187.11,1423.61" stroke="#000" stroke-width="2.3" stroke-linecap="round" fill="none"/>
<path d="M201.2,1420.45 L201.2,1416.9 M201.2,1420.45 L204.58,1419.35 M201.2,1420.45 L197.82,1419.35 M201.2,1420.45 L203.49,1423.61 M201.2,1420.45 L198.91,1423.61" stroke="#000" stroke-width="2.3" stroke-linecap="round" fill="none"/>
<path d="M213,1420.45 L213,1416.9 M213,1420.45 L216.38,1419.35 M213,1420.45 L209.62,1419.35 M213,1420.45 L215.29,1423.61 M213,1420.45 L210.71,1423.61" stroke="#000" stroke-width="2.3" stroke-linecap="round" fill="none"/>
<path d="M224.8,1420.45 L224.8,1416.9 M224.8,1420.45 L228.18,1419.35 M224.8,1420.45 L221.42,1419.35 M224.8,1420.45 L227.09,1423.61 M224.8,1420.45 L222.51,1423.61" stroke="#000" stroke-width="2.3" stroke-linecap="round" fill="none"/>
<text x="255.19" y="1438.2" font-size="21" font-style="italic" fill="#000">n=223</text>
<text transform="translate(22.11,1540.78) rotate(-90)" font-size="21">Probability</text>
<rect x="93.8" y="1605" width="6.5" height="2.3" fill="#000"/>
<text x="101.38" y="1612.09" font-size="21.5" style="font-family:'Liberation Serif',serif" fill="#000">π</text>
<text x="198.82" y="1617.4" font-size="21" fill="#000">0</text>
<text x="301.18" y="1612.59" font-size="21.5" style="font-family:'Liberation Serif',serif" fill="#000">π</text>
<text x="123.52" y="1641.1" font-size="21" fill="#000">Phase difference</text>
<text x="141.48" y="1666.2" font-size="20.5" style="font-family:'Liberation Serif',serif" fill="#000">θ</text>
<text x="152.06" y="1670" font-size="14.5" fill="#000">maj</text>
<text x="173.78" y="1666.2" font-size="20.5" fill="#000">-</text>
<text x="180.78" y="1666.2" font-size="20.5" style="font-family:'Liberation Serif',serif" fill="#000">θ</text>
<text x="191.46" y="1670" font-size="14.5" fill="#000">min</text>
<text x="219.54" y="1666.2" font-size="21" fill="#000">(rad)</text>
<text x="388.58" y="1600.34" font-size="21" fill="#000">0</text>
<text x="371.25" y="1550.47" font-size="21" fill="#000">0.1</text>
<text x="371.36" y="1500.59" font-size="21" fill="#000">0.2</text>
<text x="371.15" y="1450.72" font-size="21" fill="#000">0.3</text>
<text x="370.94" y="1400.85" font-size="21" fill="#000">0.4</text>
<path d="M419.1,1590.45 L419.1,1551.23 L439.47,1551.23 L439.47,1557.66 L459.84,1557.66 L459.84,1525 L480.21,1525 L480.21,1517.09 L500.58,1517.09 L500.58,1504.22 L520.95,1504.22 L520.95,1530.45 L541.32,1530.45 L541.32,1564.09 L561.69,1564.09 L561.69,1581.9 L582.06,1581.9 L582.06,1574.97 L602.43,1574.97 L602.43,1536.38 L622.8,1536.38 L622.8,1570.03 L643.17,1570.03 L643.17,1590.45 Z" fill="#377fc7"/>
<rect x="407.5" y="1393.4" width="247" height="197.9" fill="none" stroke="#1a1a1a" stroke-width="1.7"/>
<text x="426.97" y="1382.5" font-size="21" fill="#000">shLfng-2 t600~900 min</text>
<path d="M516.5,1420.45 L516.5,1416.9 M516.5,1420.45 L519.88,1419.35 M516.5,1420.45 L513.12,1419.35 M516.5,1420.45 L518.79,1423.61 M516.5,1420.45 L514.21,1423.61" stroke="#000" stroke-width="2.3" stroke-linecap="round" fill="none"/>
<path d="M528.3,1420.45 L528.3,1416.9 M528.3,1420.45 L531.68,1419.35 M528.3,1420.45 L524.92,1419.35 M528.3,1420.45 L530.59,1423.61 M528.3,1420.45 L526.01,1423.61" stroke="#000" stroke-width="2.3" stroke-linecap="round" fill="none"/>
<path d="M540.1,1420.45 L540.1,1416.9 M540.1,1420.45 L543.48,1419.35 M540.1,1420.45 L536.72,1419.35 M540.1,1420.45 L542.39,1423.61 M540.1,1420.45 L537.81,1423.61" stroke="#000" stroke-width="2.3" stroke-linecap="round" fill="none"/>
<path d="M551.9,1420.45 L551.9,1416.9 M551.9,1420.45 L555.28,1419.35 M551.9,1420.45 L548.52,1419.35 M551.9,1420.45 L554.19,1423.61 M551.9,1420.45 L549.61,1423.61" stroke="#000" stroke-width="2.3" stroke-linecap="round" fill="none"/>
<text x="581.58" y="1438.2" font-size="21" font-style="italic" fill="#000">n=305</text>
<text transform="translate(350.91,1541.38) rotate(-90)" font-size="21">Probability</text>
<rect x="414.2" y="1605" width="6.5" height="2.3" fill="#000"/>
<text x="421.78" y="1612.09" font-size="21.5" style="font-family:'Liberation Serif',serif" fill="#000">π</text>
<text x="519.22" y="1617.4" font-size="21" fill="#000">0</text>
<text x="621.58" y="1612.59" font-size="21.5" style="font-family:'Liberation Serif',serif" fill="#000">π</text>
<text x="443.92" y="1641.1" font-size="21" fill="#000">Phase difference</text>
<text x="461.88" y="1666.2" font-size="20.5" style="font-family:'Liberation Serif',serif" fill="#000">θ</text>
<text x="472.46" y="1670" font-size="14.5" fill="#000">maj</text>
<text x="494.18" y="1666.2" font-size="20.5" fill="#000">-</text>
<text x="501.18" y="1666.2" font-size="20.5" style="font-family:'Liberation Serif',serif" fill="#000">θ</text>
<text x="511.86" y="1670" font-size="14.5" fill="#000">min</text>
<text x="539.94" y="1666.2" font-size="21" fill="#000">(rad)</text>
<text x="682.59" y="684.5" font-size="34" font-weight="bold" fill="#000">f</text>
<rect x="790.9" y="700.9" width="249.8" height="190.8" fill="none" stroke="#1a1a1a" stroke-width="1.7"/>
<text x="771.68" y="899.75" font-size="21" fill="#000">0</text>
<path d="M790.9,891.7 L788.1,891.7" fill="none" stroke="#1a1a1a" stroke-width="1.5"/>
<text x="754.46" y="861.59" font-size="21" fill="#000">0.2</text>
<path d="M790.9,853.54 L788.1,853.54" fill="none" stroke="#1a1a1a" stroke-width="1.5"/>
<text x="754.04" y="823.42" font-size="21" fill="#000">0.4</text>
<path d="M790.9,815.38 L788.1,815.38" fill="none" stroke="#1a1a1a" stroke-width="1.5"/>
<text x="754.25" y="785.26" font-size="21" fill="#000">0.6</text>
<path d="M790.9,777.22 L788.1,777.22" fill="none" stroke="#1a1a1a" stroke-width="1.5"/>
<text x="754.25" y="747.1" font-size="21" fill="#000">0.8</text>
<path d="M790.9,739.06 L788.1,739.06" fill="none" stroke="#1a1a1a" stroke-width="1.5"/>
<text x="771.89" y="708.94" font-size="21" fill="#000">1</text>
<path d="M790.9,700.9 L788.1,700.9" fill="none" stroke="#1a1a1a" stroke-width="1.5"/>
<rect x="824.6" y="753.2" width="41.8" height="137.7" fill="#676767"/>
<rect x="894.9" y="838.3" width="41.3" height="52.6" fill="#377fc7"/>
<rect x="965.1" y="830.1" width="41.5" height="60.8" fill="#377fc7"/>
<rect x="843.1" y="751.4" width="5.3" height="3.1" fill="#000"/>
<path d="M915.7,826.7 V850" stroke="#000" stroke-width="2.0" fill="none"/>
<path d="M912.85,826.7 H918.55 M912.85,850 H918.55" stroke="#000" stroke-width="1.6" fill="none"/>
<path d="M985.7,821.7 V838.4" stroke="#000" stroke-width="2.0" fill="none"/>
<path d="M982.85,821.7 H988.55 M982.85,838.4 H988.55" stroke="#000" stroke-width="1.6" fill="none"/>
<path d="M849.3,744.3 L849.3,731.3 L915.4,731.3 L915.4,814.6" fill="none" stroke="#1a1a1a" stroke-width="1.9"/>
<path d="M842.2,744.3 L842.2,715.5 L985.7,715.5 L985.7,808.4" fill="none" stroke="#1a1a1a" stroke-width="1.9"/>
<path d="M882.8,725.05 L882.8,721.5 M882.8,725.05 L886.18,723.95 M882.8,725.05 L879.42,723.95 M882.8,725.05 L885.09,728.21 M882.8,725.05 L880.51,728.21" stroke="#000" stroke-width="2.3" stroke-linecap="round" fill="none"/>
<path d="M914,709.85 L914,706.3 M914,709.85 L917.38,708.75 M914,709.85 L910.62,708.75 M914,709.85 L916.29,713.01 M914,709.85 L911.71,713.01" stroke="#000" stroke-width="2.3" stroke-linecap="round" fill="none"/>
<text transform="translate(725.01,874.61) rotate(-90)" font-size="21">Order parameter</text>
<text transform="translate(757.17,964.73) rotate(-30)" font-size="20.3">shScramble</text>
<text transform="translate(845.94,951.11) rotate(-30)" font-size="20.3">shLfng-1</text>
<text transform="translate(919.74,953.51) rotate(-30)" font-size="20.3">shLfng-2</text>
<text x="683.14" y="1000.3" font-size="34" font-weight="bold" fill="#000">g</text>
<rect x="792.4" y="1011.6" width="250.9" height="191.2" fill="none" stroke="#1a1a1a" stroke-width="1.7"/>
<text x="770.88" y="1210.04" font-size="21" fill="#000">0</text>
<path d="M792.4,1202.8 L789.6,1202.8" fill="none" stroke="#1a1a1a" stroke-width="1.5"/>
<text x="759.33" y="1146.21" font-size="21" fill="#000">75</text>
<path d="M792.4,1139.07 L789.6,1139.07" fill="none" stroke="#1a1a1a" stroke-width="1.5"/>
<text x="747.57" y="1082.58" font-size="21" fill="#000">150</text>
<path d="M792.4,1075.33 L789.6,1075.33" fill="none" stroke="#1a1a1a" stroke-width="1.5"/>
<text x="747.67" y="1018.85" font-size="21" fill="#000">225</text>
<path d="M792.4,1011.6 L789.6,1011.6" fill="none" stroke="#1a1a1a" stroke-width="1.5"/>
<rect x="817.7" y="1044.3" width="31.2" height="157.7" fill="#4a4a4a"/>
<path d="M833.3,1034.2 V1054.3" stroke="#000" stroke-width="2.0" fill="none"/>
<path d="M831.5,1034.2 H835.1 M831.5,1054.3 H835.1" stroke="#000" stroke-width="1.6" fill="none"/>
<rect x="872.9" y="1039.9" width="31.2" height="162.1" fill="#fe7f94"/>
<path d="M888.5,1035.1 V1044" stroke="#000" stroke-width="2.0" fill="none"/>
<path d="M886.7,1035.1 H890.3 M886.7,1044 H890.3" stroke="#000" stroke-width="1.6" fill="none"/>
<rect x="928.6" y="1035.2" width="31.2" height="166.8" fill="#4a4a4a"/>
<path d="M944.2,1032.8 V1037" stroke="#000" stroke-width="2.0" fill="none"/>
<path d="M942.4,1032.8 H946 M942.4,1037 H946" stroke="#000" stroke-width="1.6" fill="none"/>
<rect x="983.9" y="1030.5" width="31.2" height="171.5" fill="#fe7f94"/>
<path d="M999.5,1021.1 V1039.9" stroke="#000" stroke-width="2.0" fill="none"/>
<path d="M997.7,1021.1 H1001.3 M997.7,1039.9 H1001.3" stroke="#000" stroke-width="1.6" fill="none"/>
<text transform="translate(731.61,1158.58) rotate(-90)" font-size="21">Period (min)</text>
<text transform="translate(783.94,1248.96) rotate(-20)" font-size="21">Control</text>
<text transform="translate(835.23,1254.67) rotate(-22.5)" font-size="21"><tspan font-style="italic">Lfng</tspan><tspan>-KO</tspan></text>
<text transform="translate(900.94,1248.96) rotate(-20)" font-size="21">Control</text>
<text transform="translate(953.03,1254.67) rotate(-22.5)" font-size="21"><tspan font-style="italic">Lfng</tspan><tspan>-KO</tspan></text>
<rect x="792.1" y="1262.2" width="85.9" height="3.3" fill="#000"/>
<rect x="910" y="1262.2" width="86.5" height="3.3" fill="#000"/>
<text x="788.65" y="1288.1" font-size="21" fill="#000">+ DMSO</text>
<text x="887.95" y="1288.1" font-size="21" fill="#000">+ 25 µM DAPT</text>
<text x="682.22" y="1323.6" font-size="34" font-weight="bold" fill="#000">h</text>
<rect x="792.4" y="1343.6" width="250.9" height="191.2" fill="none" stroke="#1a1a1a" stroke-width="1.7"/>
<text x="770.88" y="1542.04" font-size="21" fill="#000">0</text>
<path d="M792.4,1534.8 L789.6,1534.8" fill="none" stroke="#1a1a1a" stroke-width="1.5"/>
<text x="741.79" y="1478.31" font-size="21" fill="#000">0.75</text>
<path d="M792.4,1471.07 L789.6,1471.07" fill="none" stroke="#1a1a1a" stroke-width="1.5"/>
<text x="753.45" y="1414.47" font-size="21" fill="#000">1.5</text>
<path d="M792.4,1407.33 L789.6,1407.33" fill="none" stroke="#1a1a1a" stroke-width="1.5"/>
<text x="741.79" y="1350.84" font-size="21" fill="#000">2.25</text>
<path d="M792.4,1343.6 L789.6,1343.6" fill="none" stroke="#1a1a1a" stroke-width="1.5"/>
<rect x="817.7" y="1358.6" width="31.2" height="175.4" fill="#4a4a4a"/>
<path d="M833.3,1356.5 V1360.2" stroke="#000" stroke-width="2.0" fill="none"/>
<path d="M831.5,1356.5 H835.1 M831.5,1360.2 H835.1" stroke="#000" stroke-width="1.6" fill="none"/>
<rect x="872.9" y="1370.3" width="31.2" height="163.7" fill="#fe7f94"/>
<path d="M888.5,1366.7 V1373.3" stroke="#000" stroke-width="2.0" fill="none"/>
<path d="M886.7,1366.7 H890.3 M886.7,1373.3 H890.3" stroke="#000" stroke-width="1.6" fill="none"/>
<rect x="928.6" y="1366.5" width="31.2" height="167.5" fill="#4a4a4a"/>
<path d="M944.2,1363.8 V1368.9" stroke="#000" stroke-width="2.0" fill="none"/>
<path d="M942.4,1363.8 H946 M942.4,1368.9 H946" stroke="#000" stroke-width="1.6" fill="none"/>
<rect x="983.9" y="1365.4" width="31.2" height="168.6" fill="#fe7f94"/>
<path d="M999.5,1362.4 V1368.1" stroke="#000" stroke-width="2.0" fill="none"/>
<path d="M997.7,1362.4 H1001.3 M997.7,1368.1 H1001.3" stroke="#000" stroke-width="1.6" fill="none"/>
<text transform="translate(731.61,1506.65) rotate(-90)" font-size="21">Amplitude (a.u.)</text>
<text transform="translate(783.94,1580.96) rotate(-20)" font-size="21">Control</text>
<text transform="translate(835.23,1586.67) rotate(-22.5)" font-size="21"><tspan font-style="italic">Lfng</tspan><tspan>-KO</tspan></text>
<text transform="translate(900.94,1580.96) rotate(-20)" font-size="21">Control</text>
<text transform="translate(953.03,1586.67) rotate(-22.5)" font-size="21"><tspan font-style="italic">Lfng</tspan><tspan>-KO</tspan></text>
<rect x="792.1" y="1594.2" width="85.9" height="3.3" fill="#000"/>
<rect x="910" y="1594.2" width="86.5" height="3.3" fill="#000"/>
<text x="788.65" y="1620.1" font-size="21" fill="#000">+ DMSO</text>
<text x="887.95" y="1620.1" font-size="21" fill="#000">+ 25 µM DAPT</text>
</svg></body></html>
